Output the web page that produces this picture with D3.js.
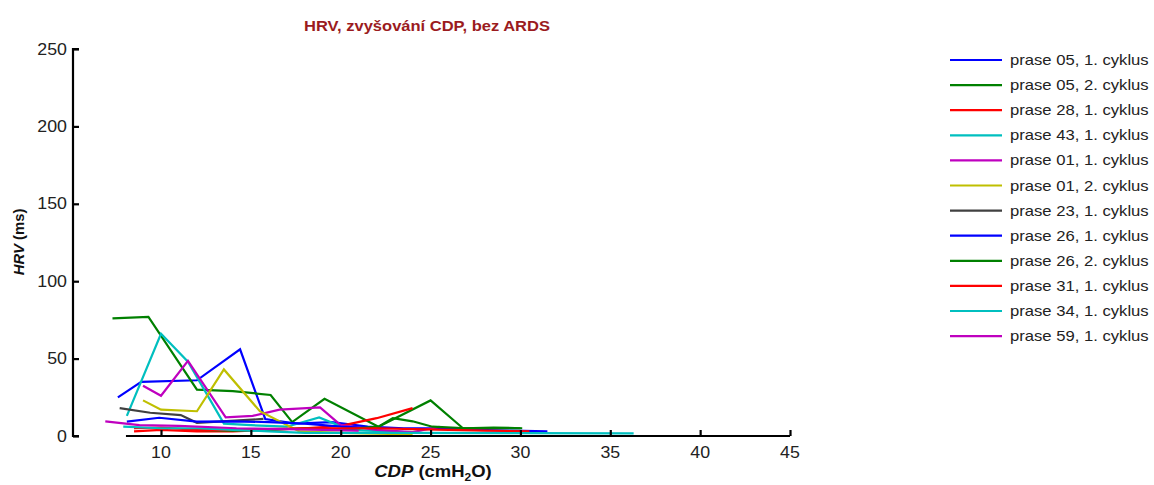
<!DOCTYPE html>
<html>
<head>
<meta charset="utf-8">
<script src="https://cdn.jsdelivr.net/npm/d3@7"></script>
<style>
  html, body { margin: 0; padding: 0; background: #fff; }
  svg { display: block; font-family: "Liberation Sans", Arial, sans-serif; }
</style>
</head>
<body>
<svg id="chart" width="1154" height="485"></svg>
<script>
// HRV vs. CDP, one line per animal and cycle
const seriesNames = [
  "prase 05, 1. cyklus", "prase 05, 2. cyklus", "prase 28, 1. cyklus",
  "prase 43, 1. cyklus", "prase 01, 1. cyklus", "prase 01, 2. cyklus",
  "prase 23, 1. cyklus", "prase 26, 1. cyklus", "prase 26, 2. cyklus",
  "prase 31, 1. cyklus", "prase 34, 1. cyklus", "prase 59, 1. cyklus"
];
const seriesColors = [
  "#0000FF", "#008000", "#FF0000", "#00BFBF", "#BF00BF", "#BFBF00",
  "#404040", "#0000FF", "#008000", "#FF0000", "#00BFBF", "#BF00BF"
];

// [CDP (cmH2O), HRV (ms)]
const prase05c1 = [[7.6,25],[8.9,35],[12.0,36],[14.4,56],[15.8,11],[17.5,8],[19.5,9],[21.5,6],[23.5,5],[25.5,5],[27.5,4],[29.5,3.5],[31.5,3]];
const prase05c2 = [[7.3,76],[9.3,77],[12.0,30],[14.0,29],[16.1,26.5],[17.3,9],[19.1,24],[22.1,6],[25.0,23],[26.8,5],[28.5,5.5],[30.1,5]];
const prase28c1 = [[8.5,3],[10,4],[12,3],[14,3],[16,4],[18,5],[20,6.5],[22,11.5],[24,18]];
const prase43c1 = [[8.1,13],[10,66],[11.5,48],[13.5,8],[15,7],[17,6],[18.8,12],[20.5,4],[22.5,3],[24.5,2]];
const prase01c1 = [[9,32.5],[10,26],[11.5,48.5],[13.6,12],[15.1,13],[16.6,17],[18.85,18.5],[20,7],[22,4],[24,2.5],[25.5,6]];
const prase01c2 = [[9,23],[10,17],[12,16],[13.5,43],[15.5,16],[17.7,3],[20,2],[22,1.5],[24,1]];
const prase23c1 = [[7.7,18],[9.4,15],[11.1,13.5],[12,8.5],[15.7,11]];
const prase26c1 = [[8.1,9.3],[9.9,11.8],[12,9.3],[14,9.5],[16,9],[18,8],[20,6],[22,5]];
const prase26c2 = [[12,4],[14,3.5],[16,4],[18,5],[20,4],[22.1,6],[22.9,11.6],[24,9.5],[25.1,6],[27,5],[30,5]];
const prase31c1 = [[8.5,5],[10,5.5],[12,4],[14,4],[16,4.5],[18,5],[20,5],[22,5],[24,4.5],[26,4],[28,3.5],[30.5,3]];
const prase34c1 = [[7.9,6],[10,5],[12,5],[14,4],[16,3],[18,2],[20,2],[24,2],[30,1.8],[36.3,1.7]];
const prase59c1 = [[6.9,9.5],[8.8,7],[11,6.5],[14.2,5],[17,4.5],[19,4],[21,3.5]];

const seriesData = [prase05c1, prase05c2, prase28c1, prase43c1, prase01c1, prase01c2,
                    prase23c1, prase26c1, prase26c2, prase31c1, prase34c1, prase59c1];

const xTicks = [10, 15, 20, 25, 30, 35, 40, 45];
const yTicks = [0, 50, 100, 150, 200, 250];

const svg = d3.select("#chart");

const x = d3.scaleLinear().domain([10, 45]).range([161, 790]);
const y = d3.scaleLinear().domain([0, 250]).range([436, 49]);
const xAxisStart = 8.05;
const yAxisX = 73;
const textStretch = 1.14; // glyphs are drawn slightly wide

// horizontal text helper: anchored at (px, py), widened along x
function wideText(parent, px, py, anchor, size) {
  return parent.append("g")
    .attr("transform", `translate(${px},${py}) scale(${textStretch},1)`)
    .append("text")
    .attr("text-anchor", anchor)
    .attr("font-size", size);
}

// title
wideText(svg, 427, 31, "middle", 14.5)
  .attr("font-weight", "bold")
  .attr("fill", "#9B1B1E")
  .text("HRV, zvyšování CDP, bez ARDS");

// series lines
const line = d3.line().x(d => x(d[0])).y(d => y(d[1]));
const plot = svg.append("g");
seriesData.forEach((s, i) => {
  plot.append("path")
    .datum(s)
    .attr("d", line)
    .attr("fill", "none")
    .attr("stroke", seriesColors[i])
    .attr("stroke-width", 2.2)
    .attr("stroke-linejoin", "miter");
});

// y axis (detached to the left of the plot)
const yAxis = d3.axisRight(y).tickValues(yTicks).tickSize(6).tickFormat("");
const gy = svg.append("g").attr("transform", `translate(${yAxisX},0)`).call(yAxis);
gy.select(".domain").attr("d", `M6,${y(250)}H0V${y(0)}H6`).attr("stroke", "#000").attr("stroke-width", 2.2);
gy.selectAll(".tick line").attr("stroke", "#000").attr("stroke-width", 2.2);
const yLabels = svg.append("g");
yTicks.forEach(d => {
  wideText(yLabels, 67, y(d) + 5.5, "end", 15.6).attr("fill", "#222").text(d);
});

// x axis
const xAxis = d3.axisTop(x).tickValues(xTicks).tickSize(6).tickFormat("");
const gx = svg.append("g").attr("transform", `translate(0,${y(0)})`).call(xAxis);
gx.select(".domain").attr("d", `M${x(xAxisStart)},0H${x(45)}`).attr("stroke", "#000").attr("stroke-width", 2.2);
gx.selectAll(".tick line").attr("stroke", "#000").attr("stroke-width", 2.2);
const xLabels = svg.append("g");
xTicks.forEach(d => {
  wideText(xLabels, x(d), 458, "middle", 15.6).attr("fill", "#222").text(d);
});

// axis titles
const yt = svg.append("text")
  .attr("transform", "translate(24,242) rotate(-90)")
  .attr("text-anchor", "middle")
  .attr("font-size", 14.8).attr("font-weight", "bold").attr("fill", "#111");
yt.append("tspan").attr("font-style", "italic").text("HRV");
yt.append("tspan").text(" (ms)");

const xt = wideText(svg, 433, 477, "middle", 16.2)
  .attr("font-weight", "bold").attr("fill", "#111");
xt.append("tspan").attr("font-style", "italic").text("CDP");
xt.append("tspan").text(" (cmH");
xt.append("tspan").attr("font-size", 10.5).attr("dy", 4).text("2");
xt.append("tspan").attr("dy", -4).text("O)");

// legend
const legend = svg.append("g");
seriesNames.forEach((name, i) => {
  const ly = 60 + i * 25.1;
  legend.append("line")
    .attr("x1", 950).attr("x2", 1002)
    .attr("y1", ly).attr("y2", ly)
    .attr("stroke", seriesColors[i]).attr("stroke-width", 2.2);
  wideText(legend, 1010, ly + 5, "start", 14.6)
    .attr("fill", "#222")
    .text(name);
});
</script>
</body>
</html>
